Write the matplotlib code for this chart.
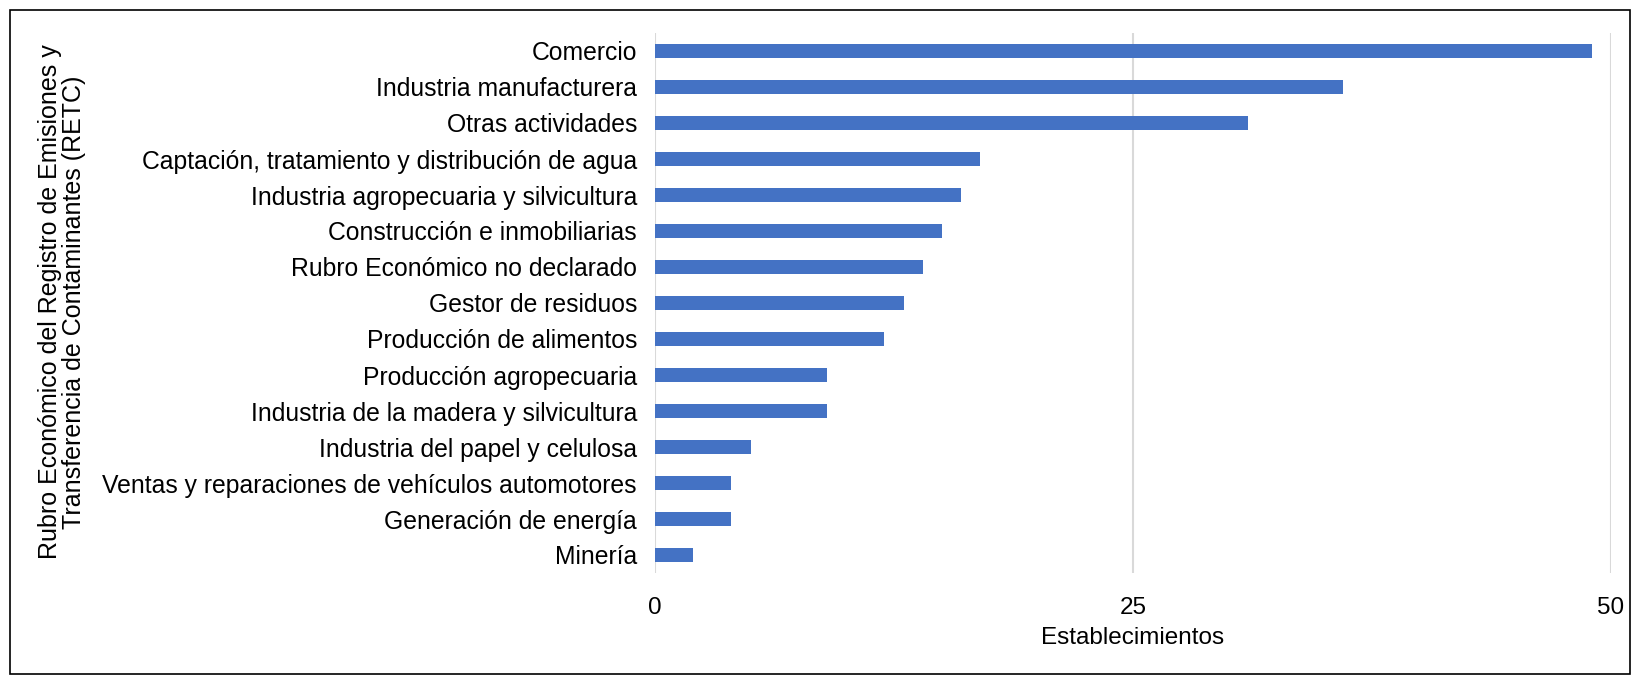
import matplotlib
matplotlib.use("Agg")
import matplotlib.pyplot as plt
from matplotlib.patches import Rectangle

plt.rcParams['font.family'] = ['Liberation Sans', 'DejaVu Sans']

categories = [
    "Comercio",
    "Industria manufacturera",
    "Otras actividades",
    "Captación, tratamiento y distribución de agua",
    "Industria agropecuaria y silvicultura",
    "Construcción e inmobiliarias",
    "Rubro Económico no declarado",
    "Gestor de residuos",
    "Producción de alimentos",
    "Producción agropecuaria",
    "Industria de la madera y silvicultura",
    "Industria del papel y celulosa",
    "Ventas y reparaciones de vehículos automotores",
    "Generación de energía",
    "Minería",
]
values = [49, 36, 31, 17, 16, 15, 14, 13, 12, 9, 9, 5, 4, 4, 2]
xticks = [0, 25, 50]

W, H = 1635, 676
fig = plt.figure(figsize=(W / 100, H / 100), dpi=100)
ax = fig.add_axes([655 / W, 1 - 573 / H, (1611 - 655) / W, (573 - 33) / H])

ypos = list(range(len(categories)))
ax.barh(ypos, values, height=0.39, color="#4472C4", zorder=3)
ax.set_yticks(ypos)
ax.set_yticklabels(categories, fontsize=17.8, color="#000000")
ax.set_ylim(len(categories) - 0.5, -0.5)
ax.set_xlim(0, 50)
ax.set_xticks(xticks)
ax.set_xticklabels([str(t) for t in xticks], fontsize=17.5)
ax.tick_params(axis="both", length=0)
ax.tick_params(axis="y", pad=13)
ax.tick_params(axis="x", pad=17)
for s in ax.spines.values():
    s.set_visible(False)
ax.grid(axis="x", color="#d9d9d9", linewidth=1.5, zorder=0)
ax.set_axisbelow(True)

ax.set_xlabel("Establecimientos", fontsize=17.5, labelpad=6)
fig.text(62 / W, 1 - 302 / H,
         "Rubro Económico del Registro de Emisiones y\nTransferencia de Contaminantes (RETC)",
         rotation=90, fontsize=18, ha="center", va="center", linespacing=1.0)

fig.patches.append(Rectangle((10 / W, 2 / H), (1630 - 10) / W, (666 - 2) / H,
                             transform=fig.transFigure, fill=False,
                             edgecolor="#000000", linewidth=1.2))

fig.savefig("out.png", dpi=100)
